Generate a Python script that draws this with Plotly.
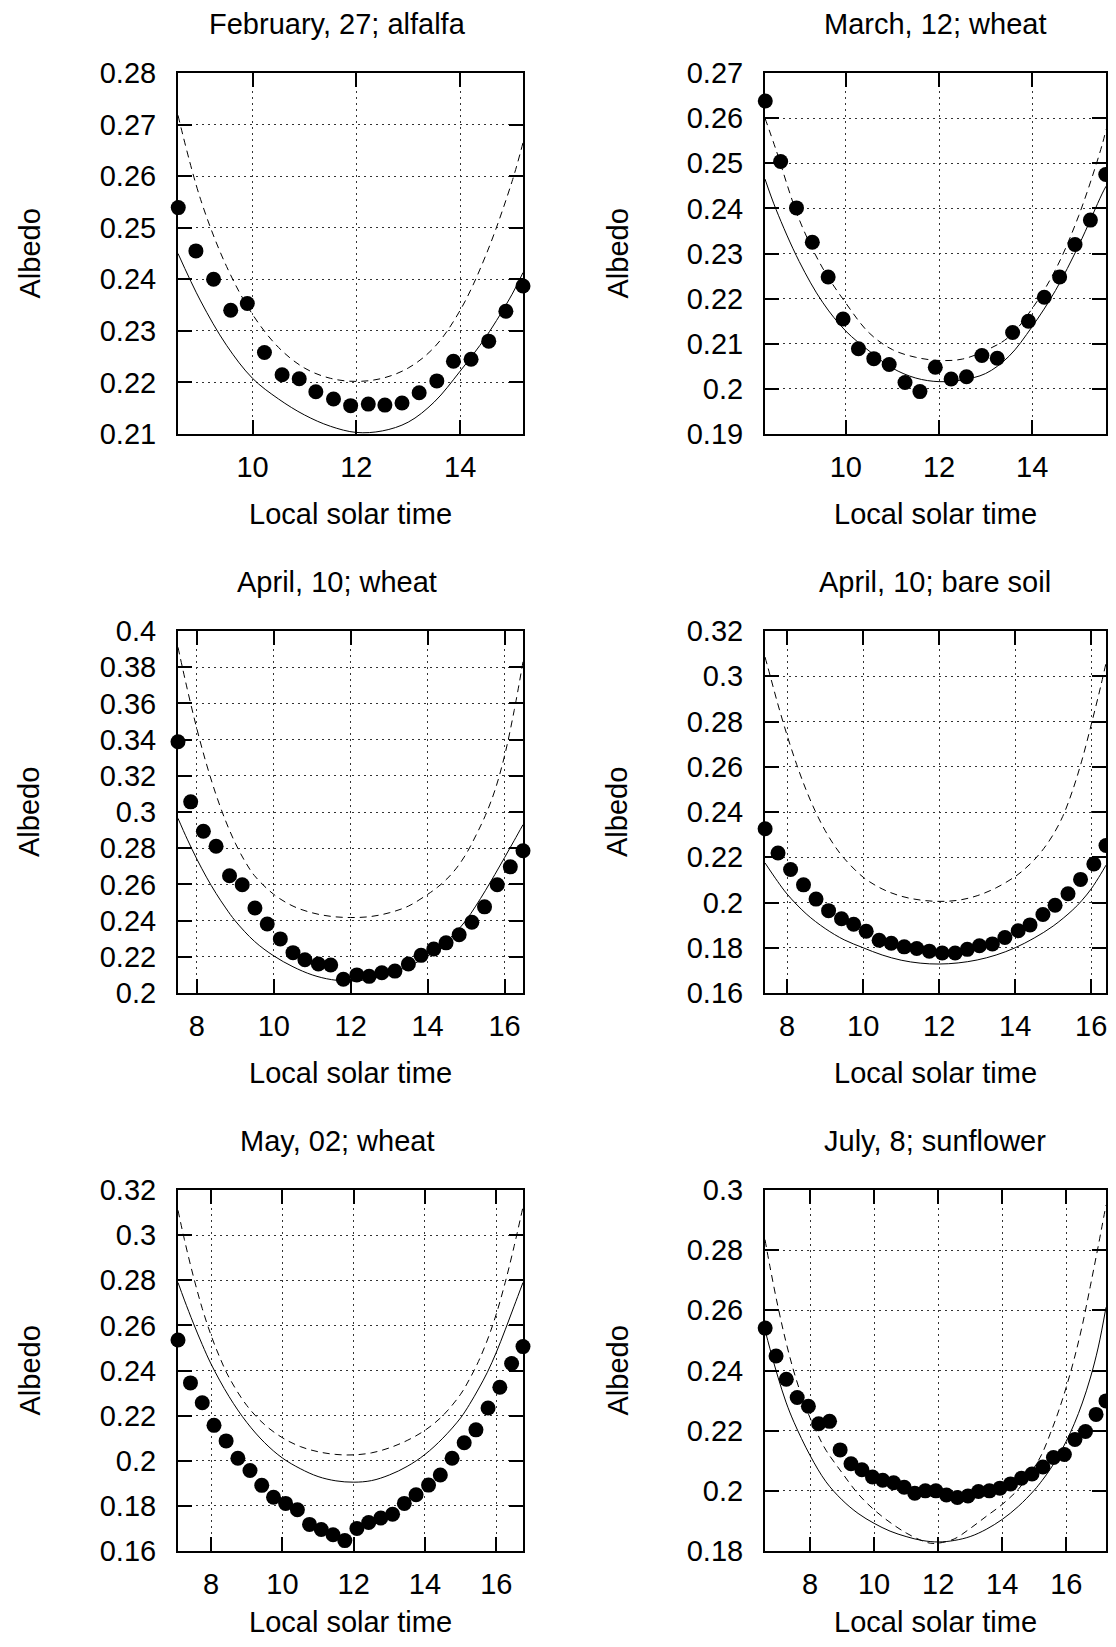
import plotly.graph_objects as go

# ---------------- data ----------------
titles = ["February, 27; alfalfa", "March, 12; wheat", "April, 10; wheat",
          "April, 10; bare soil", "May, 02; wheat", "July, 8; sunflower"]

# Panel 1: February 27, alfalfa
feb_t = [8.57, 8.91, 9.25, 9.58, 9.90, 10.23, 10.57, 10.90, 11.22, 11.56, 11.89,
         12.23, 12.55, 12.88, 13.21, 13.55, 13.87, 14.21, 14.55, 14.88, 15.21]
feb_a = [0.2539, 0.2455, 0.2400, 0.2340, 0.2353, 0.2258, 0.2215, 0.2207, 0.2182, 0.2168, 0.2155,
         0.2158, 0.2156, 0.2160, 0.2180, 0.2203, 0.2241, 0.2245, 0.2280, 0.2338, 0.2387]
feb_dash_t = [8.565, 9.0, 9.5, 10.0, 10.5, 11.0, 11.5, 12.0, 12.5, 13.0, 13.5, 14.0, 14.5, 15.0, 15.21]
feb_dash_a = [0.2718, 0.2555, 0.2425, 0.2332, 0.2268, 0.2228, 0.2208, 0.2202, 0.2208, 0.2228, 0.2268,
              0.2340, 0.2448, 0.2590, 0.2665]
feb_sol_t = [8.565, 9.0, 9.5, 10.0, 10.5, 11.0, 11.5, 12.0, 12.5, 13.0, 13.5, 14.0, 14.5, 15.0, 15.21]
feb_sol_a = [0.2450, 0.2358, 0.2272, 0.2208, 0.2168, 0.2137, 0.2115, 0.2103, 0.2106, 0.2123, 0.2162,
             0.2222, 0.2289, 0.2371, 0.2413]

# Panel 2: March 12, wheat
mar_t = [8.27, 8.60, 8.94, 9.28, 9.62, 9.94, 10.27, 10.60, 10.93, 11.27, 11.59, 11.92,
         12.26, 12.59, 12.92, 13.25, 13.58, 13.92, 14.26, 14.59, 14.92, 15.25, 15.58]
mar_a = [0.2638, 0.2504, 0.2401, 0.2325, 0.2248, 0.2155, 0.2089, 0.2067, 0.2054, 0.2014, 0.1994, 0.2048,
         0.2022, 0.2027, 0.2074, 0.2068, 0.2125, 0.2150, 0.2203, 0.2248, 0.2320, 0.2374, 0.2475]
mar_dash_t = [8.264, 8.5, 9.0, 9.5, 10.0, 10.5, 11.0, 11.5, 12.0, 12.5, 13.0, 13.5, 14.0, 14.5, 15.0, 15.5, 15.585]
mar_dash_a = [0.2600, 0.2530, 0.2375, 0.2268, 0.2190, 0.2124, 0.2087, 0.2070, 0.2063, 0.2066, 0.2085,
              0.2115, 0.2178, 0.2264, 0.2384, 0.2540, 0.2575]
mar_sol_t = [8.264, 8.5, 9.0, 9.5, 10.0, 10.5, 11.0, 11.5, 12.0, 12.5, 13.0, 13.5, 14.0, 14.5, 15.0, 15.5, 15.585]
mar_sol_a = [0.2465, 0.2398, 0.2282, 0.2192, 0.2128, 0.2084, 0.2046, 0.2024, 0.2016, 0.2020, 0.2034,
             0.2072, 0.2138, 0.2218, 0.2318, 0.2432, 0.2449]

# Panel 3: April 10, wheat
apw_t = [7.51, 7.84, 8.17, 8.50, 8.85, 9.18, 9.51, 9.83, 10.17, 10.50, 10.81, 11.16, 11.48, 11.81,
         12.16, 12.48, 12.81, 13.15, 13.50, 13.83, 14.16, 14.48, 14.82, 15.15, 15.48, 15.81, 16.15, 16.48]
apw_a = [0.3388, 0.3056, 0.2894, 0.2811, 0.2648, 0.2598, 0.2470, 0.2381, 0.2299, 0.2223, 0.2184, 0.2160, 0.2155, 0.2076,
         0.2100, 0.2092, 0.2112, 0.2121, 0.2160, 0.2208, 0.2243, 0.2277, 0.2322, 0.2391, 0.2476, 0.2598, 0.2697, 0.2786]
apw_dash_t = [7.51, 7.75, 8.0, 8.25, 8.5, 8.75, 9.0, 9.25, 9.5, 10.0, 10.5, 11.0, 11.5, 12.0, 12.5, 13.0,
              13.5, 14.0, 14.25, 14.5, 14.75, 15.0, 15.25, 15.5, 15.75, 16.0, 16.25, 16.48]
apw_dash_a = [0.3910, 0.3680, 0.3460, 0.3265, 0.3095, 0.2950, 0.2828, 0.2728, 0.2648, 0.2545, 0.2480, 0.2443,
              0.2423, 0.2417, 0.2422, 0.2443, 0.2480, 0.2545, 0.2583, 0.2630, 0.2690, 0.2768, 0.2868, 0.2980,
              0.3120, 0.3310, 0.3560, 0.3830]
apw_sol_t = [7.51, 7.75, 8.0, 8.25, 8.5, 8.75, 9.0, 9.5, 10.0, 10.5, 11.0, 11.5, 12.0, 12.5, 13.0,
             13.5, 14.0, 14.5, 14.75, 15.0, 15.25, 15.5, 15.75, 16.0, 16.25, 16.48]
apw_sol_a = [0.2965, 0.2850, 0.2740, 0.2640, 0.2550, 0.2470, 0.2398, 0.2285, 0.2205, 0.2145, 0.2100, 0.2074,
             0.2066, 0.2077, 0.2105, 0.2148, 0.2203, 0.2288, 0.2340, 0.2402, 0.2480, 0.2565, 0.2655, 0.2748,
             0.2842, 0.2930]

# Panel 4: April 10, bare soil
aps_t = [7.42, 7.76, 8.09, 8.43, 8.76, 9.09, 9.43, 9.75, 10.08, 10.42, 10.74, 11.08, 11.41, 11.74,
         12.08, 12.42, 12.74, 13.06, 13.40, 13.73, 14.08, 14.39, 14.73, 15.05, 15.39, 15.72, 16.07, 16.39]
aps_a = [0.2326, 0.2219, 0.2146, 0.2078, 0.2015, 0.1964, 0.1928, 0.1904, 0.1873, 0.1833, 0.1820, 0.1804, 0.1797, 0.1785,
         0.1777, 0.1777, 0.1793, 0.1809, 0.1817, 0.1845, 0.1875, 0.1901, 0.1947, 0.1988, 0.2039, 0.2102, 0.2170, 0.2252]
aps_dash_t = [7.417, 7.5, 7.75, 8.0, 8.25, 8.5, 8.75, 9.0, 9.25, 9.5, 10.0, 10.5, 11.0, 11.5, 12.0, 12.5, 13.0,
              13.5, 14.0, 14.25, 14.5, 14.75, 15.0, 15.25, 15.5, 15.75, 16.0, 16.25, 16.39]
aps_dash_a = [0.3085, 0.3035, 0.2880, 0.2738, 0.2610, 0.2497, 0.2400, 0.2318, 0.2250, 0.2195, 0.2112, 0.2060,
              0.2028, 0.2011, 0.2005, 0.2010, 0.2030, 0.2065, 0.2115, 0.2148, 0.2188, 0.2238, 0.2300, 0.2380,
              0.2490, 0.2625, 0.2785, 0.2955, 0.3058]
aps_sol_t = [7.417, 7.75, 8.0, 8.5, 9.0, 9.5, 10.0, 10.5, 11.0, 11.5, 12.0, 12.5, 13.0, 13.5, 14.0,
             14.5, 15.0, 15.5, 15.75, 16.0, 16.25, 16.39]
aps_sol_a = [0.2175, 0.2093, 0.2037, 0.1950, 0.1885, 0.1835, 0.1800, 0.1768, 0.1745, 0.1732, 0.1728, 0.1733,
             0.1746, 0.1768, 0.1800, 0.1843, 0.1896, 0.1965, 0.2008, 0.2060, 0.2125, 0.2165]

# Panel 5: May 02, wheat
may_t = [7.07, 7.42, 7.75, 8.08, 8.42, 8.75, 9.09, 9.42, 9.75, 10.09, 10.42, 10.76, 11.09, 11.42, 11.75,
         12.09, 12.42, 12.76, 13.09, 13.42, 13.75, 14.10, 14.43, 14.76, 15.10, 15.43, 15.77, 16.10, 16.43, 16.75]
may_a = [0.2535, 0.2345, 0.2257, 0.2157, 0.2088, 0.2011, 0.1957, 0.1891, 0.1838, 0.1811, 0.1783, 0.1718, 0.1695, 0.1672, 0.1646,
         0.1700, 0.1726, 0.1746, 0.1763, 0.1811, 0.1849, 0.1892, 0.1937, 0.2011, 0.2080, 0.2137, 0.2234, 0.2326, 0.2431, 0.2506]
may_dash_t = [7.07, 7.25, 7.5, 7.75, 8.0, 8.25, 8.5, 9.0, 9.5, 10.0, 10.5, 11.0, 11.5, 12.0, 12.5, 13.0,
              13.5, 14.0, 14.5, 15.0, 15.25, 15.5, 15.75, 16.0, 16.25, 16.5, 16.75]
may_dash_a = [0.3110, 0.2980, 0.2818, 0.2675, 0.2555, 0.2455, 0.2370, 0.2245, 0.2160, 0.2102, 0.2063, 0.2040,
              0.2028, 0.2026, 0.2035, 0.2057, 0.2090, 0.2135, 0.2200, 0.2295, 0.2362, 0.2440, 0.2535, 0.2650,
              0.2790, 0.2950, 0.3125]
may_sol_t = [7.07, 7.25, 7.5, 7.75, 8.0, 8.5, 9.0, 9.5, 10.0, 10.5, 11.0, 11.5, 12.0, 12.5, 13.0,
             13.5, 14.0, 14.5, 15.0, 15.25, 15.5, 15.75, 16.0, 16.25, 16.5, 16.75]
may_sol_a = [0.2790, 0.2712, 0.2610, 0.2515, 0.2428, 0.2285, 0.2170, 0.2080, 0.2012, 0.1965, 0.1930, 0.1911,
             0.1905, 0.1912, 0.1937, 0.1975, 0.2028, 0.2100, 0.2190, 0.2250, 0.2318, 0.2392, 0.2480, 0.2580,
             0.2685, 0.2790]

# Panel 6: July 8, sunflower
jul_t = [6.60, 6.94, 7.26, 7.60, 7.95, 8.27, 8.61, 8.94, 9.28, 9.62, 9.95, 10.27, 10.61, 10.94, 11.27, 11.60,
         11.93, 12.26, 12.60, 12.93, 13.26, 13.60, 13.93, 14.26, 14.60, 14.93, 15.27, 15.60, 15.94, 16.27, 16.60, 16.93, 17.24]
jul_a = [0.2541, 0.2448, 0.2371, 0.2310, 0.2281, 0.2223, 0.2231, 0.2136, 0.2090, 0.2070, 0.2046, 0.2035, 0.2027, 0.2012, 0.1992, 0.2000,
         0.2000, 0.1986, 0.1978, 0.1983, 0.1998, 0.2000, 0.2009, 0.2023, 0.2042, 0.2056, 0.2079, 0.2111, 0.2121, 0.2171, 0.2197, 0.2254, 0.2299]
jul_dash_t = [6.595, 6.75, 7.0, 7.25, 7.5, 7.75, 8.0, 8.25, 8.5, 9.0, 9.5, 10.0, 10.5, 11.0, 11.5, 11.75, 12.0,
              12.5, 13.0, 13.5, 14.0, 14.5, 15.0, 15.25, 15.5, 15.75, 16.0, 16.25, 16.5, 16.75, 17.0, 17.24]
jul_dash_a = [0.2835, 0.2745, 0.2612, 0.2495, 0.2395, 0.2312, 0.2243, 0.2185, 0.2135, 0.2060, 0.1990, 0.1937,
              0.1895, 0.1860, 0.1834, 0.1826, 0.1826, 0.1840, 0.1875, 0.1915, 0.1955, 0.2005, 0.2078, 0.2125,
              0.2190, 0.2262, 0.2345, 0.2440, 0.2550, 0.2680, 0.2815, 0.2950]
jul_sol_t = [6.595, 6.75, 7.0, 7.25, 7.5, 8.0, 8.5, 9.0, 9.5, 10.0, 10.5, 11.0, 11.5, 12.0, 12.5, 13.0,
             13.5, 14.0, 14.5, 15.0, 15.25, 15.5, 15.75, 16.0, 16.25, 16.5, 16.75, 17.0, 17.24]
jul_sol_a = [0.2535, 0.2472, 0.2378, 0.2295, 0.2228, 0.2118, 0.2030, 0.1970, 0.1925, 0.1892, 0.1866, 0.1848,
             0.1835, 0.1830, 0.1835, 0.1848, 0.1872, 0.1905, 0.1948, 0.2002, 0.2035, 0.2072, 0.2115, 0.2165,
             0.2223, 0.2292, 0.2375, 0.2478, 0.2610]

# axis ranges and tick values
x_ranges = [[8.565, 15.21], [8.264, 15.585], [7.51, 16.48], [7.417, 16.39], [7.07, 16.75], [6.595, 17.24]]
y_ranges = [[0.21, 0.28], [0.19, 0.27], [0.20, 0.40], [0.16, 0.32], [0.16, 0.32], [0.18, 0.30]]
x_tickvals = [6, 8, 10, 12, 14, 16, 18]
y_tickvals = [
    [0.21, 0.22, 0.23, 0.24, 0.25, 0.26, 0.27, 0.28],
    [0.19, 0.20, 0.21, 0.22, 0.23, 0.24, 0.25, 0.26, 0.27],
    [0.20, 0.22, 0.24, 0.26, 0.28, 0.30, 0.32, 0.34, 0.36, 0.38, 0.40],
    [0.16, 0.18, 0.20, 0.22, 0.24, 0.26, 0.28, 0.30, 0.32],
    [0.16, 0.18, 0.20, 0.22, 0.24, 0.26, 0.28, 0.30, 0.32],
    [0.18, 0.20, 0.22, 0.24, 0.26, 0.28, 0.30],
]
x_label = "Local solar time"
y_label = "Albedo"

panels = [
    (feb_t, feb_a, feb_dash_t, feb_dash_a, feb_sol_t, feb_sol_a),
    (mar_t, mar_a, mar_dash_t, mar_dash_a, mar_sol_t, mar_sol_a),
    (apw_t, apw_a, apw_dash_t, apw_dash_a, apw_sol_t, apw_sol_a),
    (aps_t, aps_a, aps_dash_t, aps_dash_a, aps_sol_t, aps_sol_a),
    (may_t, may_a, may_dash_t, may_dash_a, may_sol_t, may_sol_a),
    (jul_t, jul_a, jul_dash_t, jul_dash_a, jul_sol_t, jul_sol_a),
]

# ---------------- layout geometry (pixels in the 1116x1647 page) ----------------
PAGE_W, PAGE_H = 1116, 1647
OFF = 8                      # default body margin of the page
W, H = PAGE_W - 2 * OFF, PAGE_H - 2 * OFF   # figure fits the window exactly (no scrollbars)
col_x = [(178, 523), (765, 1106)]
row_y = [(73, 434), (631, 993), (1190, 1551)]
title_cx = [337, 935]
title_dy = 49
xlab_y = [514, 1073, 1622]
ylab_x = [29, 617]

FONT = "Liberation Sans, Arial, Helvetica, sans-serif"
FS = 29


def px_x(v):
    return (v - OFF) / W


def px_y(v):
    return 1 - (v - OFF) / H


fig = go.Figure()
layout = dict(width=W, height=H, margin=dict(l=0, r=0, t=0, b=0, autoexpand=False),
              paper_bgcolor="white", plot_bgcolor="white", showlegend=False,
              template="none",
              font=dict(family=FONT, size=FS, color="black"))
annotations = []

for i, (t, a, dt, da, st, sa) in enumerate(panels):
    r, c = divmod(i, 2)
    sfx = "" if i == 0 else str(i + 1)
    xa, ya = "x" + sfx, "y" + sfx
    x0, x1 = col_x[c]
    y0, y1 = row_y[r]
    common = dict(showline=True, linewidth=2, linecolor="black", mirror="ticks",
                  ticks="inside", ticklen=14, tickwidth=2, tickcolor="black",
                  showgrid=True, gridcolor="#333333", gridwidth=1, griddash="2px,4px",
                  zeroline=False, automargin=False,
                  tickfont=dict(family=FONT, size=FS, color="black"))
    layout["xaxis" + sfx] = dict(common, domain=[px_x(x0), px_x(x1)], anchor=ya,
                                  range=x_ranges[i], tickvals=x_tickvals,
                                  ticktext=[str(v) for v in x_tickvals],
                                  ticklabelstandoff=6)
    layout["yaxis" + sfx] = dict(common, domain=[px_y(y1), px_y(y0)], anchor=xa,
                                  range=y_ranges[i], tickvals=y_tickvals[i],
                                  ticktext=[f"{v:g}" for v in y_tickvals[i]],
                                  ticklabelstandoff=14)
    fig.add_trace(go.Scatter(x=dt, y=da, mode="lines", xaxis=xa, yaxis=ya,
                             line=dict(color="black", width=1, dash="7px,5px", shape="spline")))
    fig.add_trace(go.Scatter(x=st, y=sa, mode="lines", xaxis=xa, yaxis=ya,
                             line=dict(color="black", width=1, shape="spline")))
    fig.add_trace(go.Scatter(x=t, y=a, mode="markers", xaxis=xa, yaxis=ya, cliponaxis=False,
                             marker=dict(color="black", size=15, symbol="circle")))
    annotations.append(dict(text=titles[i], x=px_x(title_cx[c]), y=px_y(y0 - title_dy),
                            xref="paper", yref="paper", showarrow=False,
                            xanchor="center", yanchor="middle",
                            font=dict(family=FONT, size=FS, color="black")))
    annotations.append(dict(text=x_label, x=px_x((x0 + x1) / 2), y=px_y(xlab_y[r]),
                            xref="paper", yref="paper", showarrow=False,
                            xanchor="center", yanchor="middle",
                            font=dict(family=FONT, size=FS, color="black")))
    annotations.append(dict(text=y_label, x=px_x(ylab_x[c]), y=px_y((y0 + y1) / 2),
                            xref="paper", yref="paper", showarrow=False, textangle=-90,
                            xanchor="center", yanchor="middle",
                            font=dict(family=FONT, size=FS, color="black")))

layout["annotations"] = annotations
fig.update_layout(**layout)
fig.write_html("out.html")
